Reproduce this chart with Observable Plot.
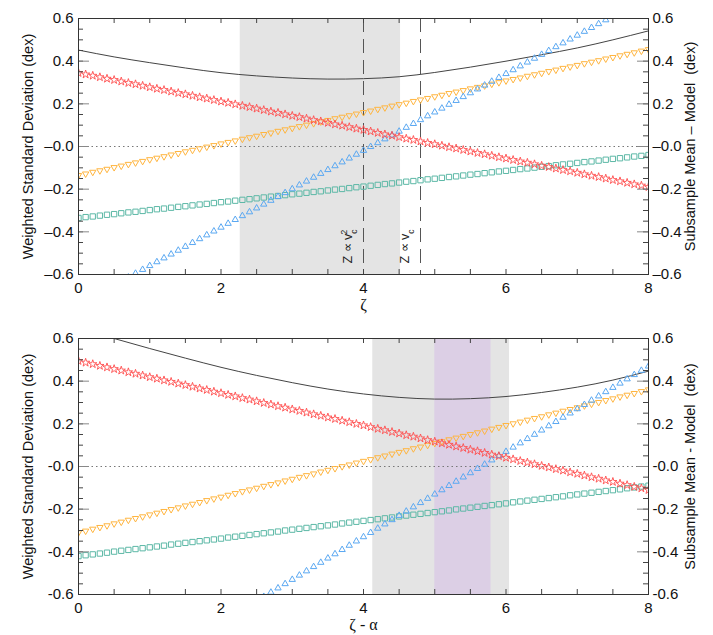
<!DOCTYPE html>
<html><head><meta charset="utf-8">
<script src="https://cdn.jsdelivr.net/npm/d3@7"></script>
<script src="https://cdn.jsdelivr.net/npm/@observablehq/plot@0.6"></script>
<style>body{margin:0;background:#fff;} svg{display:block;}</style>
</head><body><div id="chart"></div>
<script>
// ---------- data ----------
const xs = [0,0.1,0.2,0.3,0.4,0.5,0.6,0.7,0.8,0.9,1,1.1,1.2,1.3,1.4,1.5,1.6,1.7,1.8,1.9,2,2.1,2.2,2.3,2.4,2.5,2.6,2.7,2.8,2.9,3,3.1,3.2,3.3,3.4,3.5,3.6,3.7,3.8,3.9,4,4.1,4.2,4.3,4.4,4.5,4.6,4.7,4.8,4.9,5,5.1,5.2,5.3,5.4,5.5,5.6,5.7,5.8,5.9,6,6.1,6.2,6.3,6.4,6.5,6.6,6.7,6.8,6.9,7,7.1,7.2,7.3,7.4,7.5,7.6,7.7,7.8,7.9,8];

// top panel (zeta)
const topRed = [0.345,0.338,0.332,0.325,0.318,0.312,0.305,0.298,0.292,0.285,0.278,0.271,0.265,0.258,0.251,0.245,0.238,0.231,0.225,0.218,0.211,0.205,0.198,0.191,0.185,0.178,0.171,0.164,0.158,0.151,0.144,0.138,0.131,0.124,0.118,0.111,0.104,0.098,0.091,0.084,0.078,0.071,0.064,0.057,0.051,0.044,0.037,0.031,0.024,0.017,0.011,0.004,-0.003,-0.009,-0.016,-0.023,-0.030,-0.036,-0.043,-0.050,-0.056,-0.063,-0.070,-0.076,-0.083,-0.090,-0.096,-0.103,-0.110,-0.116,-0.123,-0.130,-0.137,-0.143,-0.150,-0.157,-0.163,-0.170,-0.177,-0.183,-0.190];
const topOrange = [-0.135,-0.128,-0.120,-0.113,-0.106,-0.098,-0.091,-0.083,-0.076,-0.069,-0.061,-0.054,-0.047,-0.039,-0.032,-0.024,-0.017,-0.010,-0.002,0.005,0.013,0.020,0.027,0.035,0.042,0.049,0.057,0.064,0.072,0.079,0.086,0.094,0.101,0.108,0.116,0.123,0.131,0.138,0.145,0.153,0.160,0.167,0.175,0.182,0.190,0.197,0.204,0.212,0.219,0.226,0.234,0.241,0.249,0.256,0.263,0.271,0.278,0.285,0.293,0.300,0.308,0.315,0.322,0.330,0.337,0.344,0.352,0.359,0.367,0.374,0.381,0.389,0.396,0.403,0.411,0.418,0.426,0.433,0.440,0.448,0.455];
const topGreen = [-0.335,-0.331,-0.328,-0.324,-0.320,-0.317,-0.313,-0.309,-0.306,-0.302,-0.298,-0.294,-0.291,-0.287,-0.283,-0.280,-0.276,-0.272,-0.269,-0.265,-0.261,-0.258,-0.254,-0.250,-0.247,-0.243,-0.239,-0.235,-0.232,-0.228,-0.224,-0.221,-0.217,-0.213,-0.210,-0.206,-0.202,-0.199,-0.195,-0.191,-0.188,-0.184,-0.180,-0.176,-0.173,-0.169,-0.165,-0.162,-0.158,-0.154,-0.151,-0.147,-0.143,-0.140,-0.136,-0.132,-0.129,-0.125,-0.121,-0.117,-0.114,-0.110,-0.106,-0.103,-0.099,-0.095,-0.092,-0.088,-0.084,-0.081,-0.077,-0.073,-0.070,-0.066,-0.062,-0.058,-0.055,-0.051,-0.047,-0.044,-0.040];
const topBlue = [-0.739,-0.721,-0.703,-0.685,-0.667,-0.649,-0.631,-0.613,-0.595,-0.577,-0.559,-0.541,-0.523,-0.505,-0.487,-0.469,-0.451,-0.433,-0.415,-0.397,-0.379,-0.361,-0.343,-0.325,-0.307,-0.289,-0.271,-0.253,-0.235,-0.217,-0.199,-0.181,-0.163,-0.145,-0.127,-0.109,-0.091,-0.073,-0.055,-0.037,-0.019,-0.001,0.017,0.035,0.053,0.071,0.089,0.107,0.125,0.143,0.161,0.179,0.197,0.215,0.233,0.251,0.269,0.287,0.305,0.323,0.341,0.359,0.377,0.395,0.413,0.431,0.449,0.467,0.485,0.503,0.521,0.539,0.557,0.575,0.593,0.611,0.629,0.647,0.665,0.683,0.701];
const curveX = [0,0.5,1,1.5,2,2.5,3,3.5,4,4.5,5,5.5,6,6.5,7,7.5,8];
const topCurve = [0.452,0.42,0.393,0.368,0.346,0.331,0.321,0.316,0.318,0.327,0.347,0.372,0.40,0.43,0.462,0.50,0.542];

// bottom panel (zeta - alpha)
const botRed = [0.495,0.487,0.480,0.472,0.465,0.457,0.450,0.442,0.435,0.427,0.419,0.412,0.404,0.397,0.389,0.382,0.374,0.366,0.359,0.351,0.344,0.336,0.329,0.321,0.314,0.306,0.298,0.291,0.283,0.276,0.268,0.261,0.253,0.245,0.238,0.230,0.223,0.215,0.208,0.200,0.193,0.185,0.177,0.170,0.162,0.155,0.147,0.140,0.132,0.124,0.117,0.109,0.102,0.094,0.087,0.079,0.072,0.064,0.056,0.049,0.041,0.034,0.026,0.019,0.011,0.003,-0.004,-0.012,-0.019,-0.027,-0.034,-0.042,-0.050,-0.057,-0.065,-0.072,-0.080,-0.087,-0.095,-0.102,-0.110];
const botOrange = [-0.310,-0.302,-0.293,-0.285,-0.277,-0.268,-0.260,-0.251,-0.243,-0.235,-0.226,-0.218,-0.210,-0.201,-0.193,-0.184,-0.176,-0.168,-0.159,-0.151,-0.143,-0.134,-0.126,-0.117,-0.109,-0.101,-0.092,-0.084,-0.076,-0.067,-0.059,-0.050,-0.042,-0.034,-0.025,-0.017,-0.009,0.000,0.008,0.017,0.025,0.033,0.042,0.050,0.059,0.067,0.075,0.084,0.092,0.100,0.109,0.117,0.126,0.134,0.142,0.151,0.159,0.167,0.176,0.184,0.193,0.201,0.209,0.218,0.226,0.234,0.243,0.251,0.260,0.268,0.276,0.285,0.293,0.301,0.310,0.318,0.327,0.335,0.343,0.352,0.360];
const botGreen = [-0.420,-0.416,-0.412,-0.408,-0.404,-0.399,-0.395,-0.391,-0.387,-0.383,-0.379,-0.375,-0.371,-0.366,-0.362,-0.358,-0.354,-0.350,-0.346,-0.342,-0.338,-0.333,-0.329,-0.325,-0.321,-0.317,-0.313,-0.309,-0.305,-0.300,-0.296,-0.292,-0.288,-0.284,-0.280,-0.276,-0.272,-0.267,-0.263,-0.259,-0.255,-0.251,-0.247,-0.243,-0.239,-0.234,-0.230,-0.226,-0.222,-0.218,-0.214,-0.210,-0.206,-0.201,-0.197,-0.193,-0.189,-0.185,-0.181,-0.177,-0.173,-0.168,-0.164,-0.160,-0.156,-0.152,-0.148,-0.144,-0.140,-0.135,-0.131,-0.127,-0.123,-0.119,-0.115,-0.111,-0.107,-0.102,-0.098,-0.094,-0.090];
const botBlue = [-1.130,-1.110,-1.090,-1.070,-1.050,-1.030,-1.010,-0.990,-0.970,-0.950,-0.930,-0.910,-0.890,-0.870,-0.850,-0.830,-0.810,-0.790,-0.770,-0.750,-0.730,-0.710,-0.690,-0.670,-0.650,-0.630,-0.610,-0.590,-0.570,-0.550,-0.530,-0.510,-0.490,-0.470,-0.450,-0.430,-0.410,-0.390,-0.370,-0.350,-0.330,-0.310,-0.290,-0.270,-0.250,-0.230,-0.210,-0.190,-0.170,-0.150,-0.130,-0.110,-0.090,-0.070,-0.050,-0.030,-0.010,0.010,0.030,0.050,0.070,0.090,0.110,0.130,0.150,0.170,0.190,0.210,0.230,0.250,0.270,0.290,0.310,0.330,0.350,0.370,0.390,0.410,0.430,0.450,0.470];
const botCurve = [0.65,0.60,0.553,0.508,0.465,0.427,0.393,0.363,0.34,0.324,0.316,0.318,0.328,0.347,0.372,0.405,0.447];

// shaded ranges and reference lines
const topBandsGray = [[2.27, 4.52]];
const botBandsGray = [[4.13, 6.05]];
const botBandsPurple = [[5.0, 5.79]];
const topVLines = [4.0, 4.8];
const topAnnot = [{x: 4.0, base: "Z \u221D v", sub: "c", sup: "2"}, {x: 4.8, base: "Z \u221D v", sub: "c", sup: ""}];

// ticks
const xTickValues = [0, 2, 4, 6, 8];
const xTickLabels = ["0", "2", "4", "6", "8"];
const xMinorTicks = [0,0.5,1,1.5,2,2.5,3,3.5,4,4.5,5,5.5,6,6.5,7,7.5,8];
const yTickValues = [-0.6, -0.4, -0.2, 0, 0.2, 0.4, 0.6];
const yTickLabelsTop = ["\u20130.6", "\u20130.4", "\u20130.2", "\u20130.0", "0.2", "0.4", "0.6"];
const yTickLabelsBot = ["-0.6", "-0.4", "-0.2", "-0.0", "0.2", "0.4", "0.6"];
const yMinorTicks = [-0.6,-0.55,-0.5,-0.45,-0.4,-0.35,-0.3,-0.25,-0.2,-0.15,-0.1,-0.05,0,0.05,0.1,0.15,0.2,0.25,0.3,0.35,0.4,0.45,0.5,0.55,0.6];

const leftTitle = "Weighted Standard Deviation (dex)";
const rightTitleTop = "Subsample Mean \u2013 Model  (dex)";
const rightTitleBot = "Subsample Mean - Model  (dex)";
const xTitleTop = "\u03B6";
const xTitleBot = "\u03B6 - \u03B1";

// ---------- drawing ----------
const W = 713, ML = 78, MR = 65;
const RED = "#ff4d4d", ORANGE = "#ffb53f", GREEN = "#5cb8a6", BLUE = "#5aa8f2";
const GRAY = "#e4e4e4", PURPLE = "#dccfe5";
const FONT = '"Liberation Sans", Arial, Helvetica, sans-serif';

const triDown = {draw(ctx, size) {
  const s = Math.sqrt(size * 4 / Math.sqrt(3)), h = s * Math.sqrt(3) / 2;
  ctx.moveTo(0, 2 * h / 3); ctx.lineTo(s / 2, -h / 3); ctx.lineTo(-s / 2, -h / 3); ctx.closePath();
}};
const triUp = {draw(ctx, size) {
  const s = Math.sqrt(size * 4 / Math.sqrt(3)), h = s * Math.sqrt(3) / 2;
  ctx.moveTo(0, -2 * h / 3); ctx.lineTo(s / 2, h / 3); ctx.lineTo(-s / 2, h / 3); ctx.closePath();
}};

function panel(cfg) {
  const H = cfg.height, MT = cfg.mt, MB = cfg.mb;
  const iw = W - ML - MR, ih = H - MT - MB;
  const rows = ys => xs.map((x, i) => ({x, y: ys[i]}));
  const crows = ys => curveX.map((x, i) => ({x, y: ys[i]}));
  const marks = [];
  for (const [a, b] of cfg.gray) marks.push(Plot.rect([{a, b}], {x1: "a", x2: "b", fill: GRAY}));
  for (const [a, b] of cfg.purple) marks.push(Plot.rect([{a, b}], {x1: "a", x2: "b", fill: PURPLE}));
  marks.push(Plot.ruleX(cfg.vlines, {x: d => d, stroke: "#555", strokeWidth: 1, strokeDasharray: "14,7"}));
  marks.push(Plot.ruleY([0], {y: d => d, stroke: "#777", strokeWidth: 1, strokeDasharray: "1.5,3"}));
  marks.push(Plot.line(crows(cfg.curve), {x: "x", y: "y", curve: "natural", stroke: "#444", strokeWidth: 1, clip: true}));
  marks.push(Plot.dot(rows(cfg.green), {x: "x", y: "y", symbol: "square", r: 3.0, stroke: GREEN, fill: "none", strokeWidth: 1, clip: true}));
  marks.push(Plot.dot(rows(cfg.orange), {x: "x", y: "y", symbol: triDown, r: 2.35, stroke: ORANGE, fill: "none", strokeWidth: 1, clip: true}));
  marks.push(Plot.dot(rows(cfg.blue), {x: "x", y: "y", symbol: triUp, r: 2.35, stroke: BLUE, fill: "none", strokeWidth: 1, clip: true}));
  marks.push(Plot.dot(rows(cfg.red), {x: "x", y: "y", symbol: "star", r: 2.6, stroke: RED, fill: "none", strokeWidth: 0.9, clip: true}));
  // inward ticks on all four sides
  marks.push(Plot.ruleX(xMinorTicks, {x: d => d, insetTop: ih - 5, stroke: "#444"}));
  marks.push(Plot.ruleX(xMinorTicks, {x: d => d, insetBottom: ih - 5, stroke: "#444"}));
  marks.push(Plot.ruleY(yMinorTicks, {y: d => d, insetRight: iw - 5, stroke: "#444"}));
  marks.push(Plot.ruleY(yMinorTicks, {y: d => d, insetLeft: iw - 5, stroke: "#444"}));
  marks.push(Plot.ruleY(yTickValues, {y: d => d, insetRight: iw - 11, stroke: "#888"}));
  marks.push(Plot.ruleY(yTickValues, {y: d => d, insetLeft: iw - 11, stroke: "#888"}));
  marks.push(Plot.frame({stroke: "#333", strokeWidth: 1}));
  marks.push(Plot.axisX(xTickValues, {anchor: "bottom", tickSize: 0, tickPadding: 8, fontSize: 15, label: null, tickFormat: d => xTickLabels[xTickValues.indexOf(d)]}));
  marks.push(Plot.axisY(yTickValues, {anchor: "left", tickSize: 0, tickPadding: 5, fontSize: 15, label: null, tickFormat: d => cfg.yLabels[yTickValues.indexOf(d)]}));
  marks.push(Plot.axisY(yTickValues, {anchor: "right", tickSize: 0, tickPadding: 4, fontSize: 15, label: null, tickFormat: d => cfg.yLabels[yTickValues.indexOf(d)]}));
  marks.push(Plot.text([leftTitle], {text: d => d, frameAnchor: "left", textAnchor: "middle", dx: -50, rotate: -90, fontSize: 14.5}));
  marks.push(Plot.text([cfg.rightTitle], {text: d => d, frameAnchor: "right", textAnchor: "middle", dx: 42, rotate: -90, fontSize: 14.5}));
  marks.push(Plot.text([cfg.xTitle], {text: d => d, frameAnchor: "bottom", dy: 35, fontSize: 16, fontFamily: '"Liberation Serif", "DejaVu Serif", serif'}));
  if (cfg.annot.length) marks.push(Plot.text(cfg.annot, {x: "x", text: "base", frameAnchor: "bottom", dy: -11, dx: -12, rotate: -90, textAnchor: "start", fontSize: 12.5, fill: "#222"}));

  const svg = Plot.plot({
    width: W, height: H, marginLeft: ML, marginRight: MR, marginTop: MT, marginBottom: MB,
    x: {domain: [0, 8]}, y: {domain: [-0.6, 0.6]},
    style: {fontFamily: FONT, fontSize: "15px", color: "#111", background: "#fff"},
    marks
  });
  // sub/superscripts for annotations
  if (cfg.annot.length) {
    const nodes = d3.select(svg).selectAll("text").filter(function() { return this.textContent === cfg.annot[0].base; }).nodes();
    nodes.forEach((n, i) => {
      const a = cfg.annot[i];
      d3.select(n).append("tspan").attr("baseline-shift", "sub").attr("font-size", "8.5").text(a.sub);
      if (a.sup) d3.select(n).append("tspan").attr("dx", -5).attr("baseline-shift", "super").attr("font-size", "8.5").text(a.sup);
    });
  }
  return svg;
}

const root = document.getElementById("chart");
root.appendChild(panel({height: 320, mt: 18, mb: 46, red: topRed, orange: topOrange, green: topGreen, blue: topBlue, curve: topCurve,
  gray: topBandsGray, purple: [], vlines: topVLines, annot: topAnnot, yLabels: yTickLabelsTop, rightTitle: rightTitleTop, xTitle: xTitleTop}));
root.appendChild(panel({height: 315, mt: 18, mb: 41, red: botRed, orange: botOrange, green: botGreen, blue: botBlue, curve: botCurve,
  gray: botBandsGray, purple: botBandsPurple, vlines: [], annot: [], yLabels: yTickLabelsBot, rightTitle: rightTitleBot, xTitle: xTitleBot}));
</script>
</body></html>
